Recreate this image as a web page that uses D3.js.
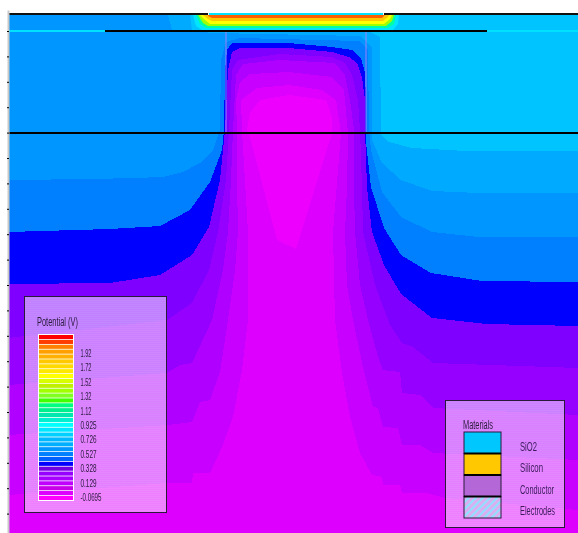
<!DOCTYPE html>
<html>
<head>
<meta charset="utf-8">
<script src="https://cdn.jsdelivr.net/npm/d3@7"></script>
<style>
html, body { margin: 0; padding: 0; background: #fff; overflow: hidden; }
svg { display: block; }
text { font-family: "Liberation Sans", Arial, sans-serif; }
</style>
</head>
<body>
<svg id="chart" width="578" height="533"></svg>
<script>
// contour outlines, [lateral position, depth], outermost level first
var levelA = [[0,-16],[292,-16],[292,1],[362,1],[372,6],[373,104],[381,111],[404,117],[458,120],[570,120],[570,502],[0,502]];
var levelB = [[0,-16],[160,-16],[164,-1],[207,2],[352,5],[364,17],[364,109],[374,132],[393,149],[424,160],[471,162],[570,162],[570,502],[0,502]];
var levelC = [[0,149],[85,148],[125,147],[155,146],[175,141],[192,132],[205,119],[212,99],[213,29],[218,11],[232,7],[352,10],[360,19],[361,99],[363,119],[374,161],[393,186],[424,201],[471,206],[570,206],[570,502],[0,502]];
var levelD = [[0,201],[102,198],[152,195],[182,179],[202,151],[214,119],[216,99],[217,39],[219,19],[224,12],[281,12],[324,16],[344,19],[353,27],[357,42],[358,69],[358,112],[363,156],[376,197],[393,224],[423,242],[474,250],[570,251],[570,502],[0,502]];
var levelE = [[0,253],[102,252],[152,244],[184,224],[201,196],[212,149],[217,99],[220,39],[224,21],[232,17],[281,17],[324,21],[341,26],[349,32],[354,46],[357,69],[357,99],[359,156],[364,201],[376,234],[393,263],[424,287],[478,293],[570,295],[570,502],[0,502]];
var levelF = [[0,307],[159,289],[184,272],[201,239],[210,201],[218,149],[221,99],[224,39],[230,29],[272,23],[324,26],[337,32],[344,44],[350,69],[352,99],[354,156],[355,201],[367,254],[382,294],[394,312],[405,316],[425,332],[570,337],[570,502],[0,502]];
var levelG = [[0,354],[159,342],[172,334],[184,332],[204,289],[215,239],[220,201],[223,149],[225,99],[228,44],[235,33],[272,29],[327,32],[337,44],[342,69],[346,99],[346,156],[347,201],[352,254],[360,289],[370,326],[375,339],[392,341],[394,362],[412,364],[425,377],[570,384],[570,502],[0,502]];
var levelH = [[0,404],[160,394],[184,391],[192,371],[202,369],[212,341],[220,289],[227,239],[230,201],[229,149],[229,99],[228,69],[232,51],[242,43],[281,41],[324,46],[336,59],[340,102],[339,156],[337,201],[339,254],[345,289],[355,336],[365,376],[370,377],[375,396],[390,397],[394,414],[412,414],[425,422],[570,429],[570,502],[0,502]];
var levelJ = [[0,464],[159,452],[184,452],[185,442],[202,442],[214,416],[225,386],[234,339],[240,289],[240,201],[234,99],[233,69],[249,57],[281,54],[314,59],[328,69],[333,102],[325,201],[327,289],[334,342],[342,386],[352,422],[364,444],[374,446],[375,454],[392,454],[394,462],[419,462],[437,467],[570,479],[570,502],[0,502]];
var levelK = [[239,99],[242,82],[252,69],[281,64],[318,69],[324,86],[324,102],[288,218],[269,209],[242,106]];

// the thin strip under the gate electrode
var gate1 = [[182,-16],[184,-1],[392,-1],[393,-16]];
var gate2 = [[185,-16],[188,-5],[194,-1],[385,-1],[390,-7],[391,-16]];
var gate3 = [[188,-16],[192,-7],[198,-3],[380,-3],[386,-7],[388,-16]];
var gate4 = [[190,-16],[195,-8],[200,-5],[378,-5],[384,-10],[386,-16]];
var gate5 = [[192,-16],[197,-11],[202,-7],[376,-7],[382,-12],[384,-16]];
var gate6 = [[195,-16],[200,-12],[204,-10],[375,-10],[380,-14],[381,-16]];
var gate7 = [[200,-16],[200,-15],[204,-13],[374,-13],[377,-16]];

var levelColors = ["#00aaff","#0096ff","#0080ff","#0000ff","#8000ff","#9600ff","#b000ff","#c800ff","#dd00ff","#ee00ff"];
var gateColors = ["#00c4ff","#00e5ff","#00ffa0","#a0ff00","#ffff00","#ffc800","#ff6000"];

var yTicks = [0,25.4,50.8,76.2,101.6,127,152.4,177.8,203.2,228.6,254,279.4,304.8,330.2,355.6,381,406.4,431.8,457.2,482.6];

var scaleColors = ["#ff0000","#ff3c00","#ff8000","#ffa000","#ffb000","#ffc800","#ffd800","#ffe800","#ffff00","#d8ff00","#c0f000","#a0ff00","#80ff20","#40ff00","#00ff80","#00f090","#00e8b0","#00f0d0","#00ffff","#00e8ff","#00d0ff","#00b8ff","#00b0ff","#0096ff","#0080ff","#0060ff","#0000ff","#7000e0","#9600ff","#a800ff","#c000ff","#c800e8","#dd00ff","#ff00ff"];
var scaleLabels = ["1.92","1.72","1.52","1.32","1.12","0.925","0.726","0.527","0.328","0.129","-0.0695"];
var materialNames = ["SiO2","Silicon","Conductor","Electrodes"];
var materialColors = ["#00c8ff","#ffc800","#b468d8","url(#hatch)"];

var svg = d3.select("#chart");

var x = d3.scaleLinear().domain([0,570]).range([8,578]);
var y = d3.scaleLinear().domain([-21,502]).range([10,533]);

var defs = svg.append("defs");
var stripes = defs.append("pattern")
	.attr("id","panel").attr("width",4).attr("height",2)
	.attr("patternUnits","userSpaceOnUse");
stripes.append("rect").attr("width",4).attr("height",2).attr("fill","#fff").attr("fill-opacity",0.5);
stripes.append("rect").attr("width",4).attr("height",1).attr("fill","#fff").attr("fill-opacity",0.06);

var hatch = defs.append("pattern")
	.attr("id","hatch").attr("width",5).attr("height",5)
	.attr("patternUnits","userSpaceOnUse")
	.attr("patternTransform","rotate(45)");
hatch.append("rect").attr("width",5).attr("height",5).attr("fill","#d8b0f0");
hatch.append("rect").attr("width",2).attr("height",5).attr("fill","#90e0ff");

defs.append("filter").attr("id","soft")
	.append("feGaussianBlur").attr("stdDeviation",0.35);

var line = d3.line().x(function(d){ return x(d[0]); }).y(function(d){ return y(d[1]); });

// base level fills the whole device
svg.append("path")
	.attr("d", line([[0,-16],[570,-16],[570,502],[0,502]]) + "Z")
	.attr("fill","#00c4ff");

var levels = [levelA,levelB,levelC,levelD,levelE,levelF,levelG,levelH,levelJ,levelK];
svg.append("g").attr("class","levels").selectAll("path")
	.data(levels).enter().append("path")
	.attr("d",function(d){ return line(d) + "Z"; })
	.attr("fill",function(d,i){ return levelColors[i]; })
	.attr("shape-rendering","crispEdges");

var gates = [gate1,gate2,gate3,gate4,gate5,gate6,gate7];
svg.append("g").attr("class","gate").selectAll("path")
	.data(gates).enter().append("path")
	.attr("d",function(d){ return line(d) + "Z"; })
	.attr("fill",function(d,i){ return gateColors[i]; });

// material boundaries
var edges = [
	{ from:[218,0], to:[218,102], color:"#9a80ff", w:1 },
	{ from:[358,0], to:[358,102], color:"#9a80ff", w:1 },
	{ from:[0,-17], to:[200,-17], color:"#111", w:2 },
	{ from:[201,-17], to:[375,-17], color:"#00e5ff", w:2 },
	{ from:[376,-17], to:[570,-17], color:"#111", w:2 },
	{ from:[0,0], to:[97,0], color:"#00e0ff", w:2 },
	{ from:[97,0], to:[479,0], color:"#000", w:2 },
	{ from:[479,0], to:[570,0], color:"#00e0ff", w:2 },
	{ from:[0,102], to:[570,102], color:"#000", w:2 }
];
svg.append("g").attr("class","edges").selectAll("path")
	.data(edges).enter().append("path")
	.attr("d",function(d){ return line([d.from,d.to]); })
	.attr("stroke",function(d){ return d.color; })
	.attr("stroke-width",function(d){ return d.w; })
	.attr("fill","none");

// left axis, ticks only
var axis = svg.append("g")
	.attr("transform","translate(8,0)")
	.call(d3.axisLeft(y).tickValues(yTicks).tickSize(2).tickSizeOuter(0).tickFormat(""));
axis.select(".domain").attr("stroke","#c8c8c8").attr("stroke-width",2);
axis.selectAll(".tick line").attr("stroke","#000").attr("transform","translate(1,0)");

function drawPanel(px, py, w, h) {
	var g = svg.append("g").attr("transform","translate("+[px,py]+")");
	g.append("rect").attr("width",w).attr("height",h).attr("fill","url(#panel)");
	g.append("rect").attr("x",0.5).attr("y",0.5).attr("width",w-1).attr("height",h-1)
		.attr("fill","none").attr("stroke","#2a1a3a").attr("stroke-width",1);
	return g;
}

function label(g, str, px, py, size, len, color) {
	g.append("text")
		.attr("x",px).attr("y",py)
		.attr("font-size",size)
		.attr("fill",color)
		.attr("dominant-baseline","central")
		.attr("textLength",len)
		.attr("lengthAdjust","spacingAndGlyphs")
		.attr("filter","url(#soft)")
		.text(str);
}

// potential legend
var potential = drawPanel(24,296,143,217);
label(potential,"Potential (V)",13,26,12,41,"#2a1a3a");
var band = d3.scaleBand().domain(d3.range(scaleColors.length)).range([39,204]).paddingInner(0.16);
potential.append("rect").attr("x",14).attr("y",38).attr("width",36).attr("height",167).attr("fill","#fff");
potential.selectAll(".swatch").data(scaleColors).enter().append("rect")
	.attr("class","swatch")
	.attr("x",15).attr("width",34)
	.attr("y",function(d,i){ return band(i); })
	.attr("height",band.bandwidth())
	.attr("fill",function(d){ return d; });
var labelY = d3.scaleLinear().domain([0,scaleLabels.length-1]).range([57,201]);
var labelW = { 4:11, 5:16, 7:21 };
scaleLabels.forEach(function(d,i){
	label(potential,d,56.5,labelY(i),11,labelW[d.length],"#2a1a3a");
});

// materials legend
var materials = drawPanel(445,400,120,128);
label(materials,"Materials",18,25,12,30,"#2a1a3a");
var matBand = d3.scaleBand().domain(d3.range(materialNames.length)).range([32,118]);
var matW = [17,23,34,35];
materialNames.forEach(function(d,i){
	materials.append("rect")
		.attr("x",19).attr("y",matBand(i))
		.attr("width",37).attr("height",matBand.bandwidth())
		.attr("fill",materialColors[i])
		.attr("stroke","#2a1a3a").attr("stroke-width",1);
	if (i > 0) materials.append("rect")
		.attr("x",19).attr("y",matBand(i)-1)
		.attr("width",37).attr("height",2)
		.attr("fill","#000");
	label(materials,d,75,matBand(i)+matBand.bandwidth()/2+4,12,matW[i],"#3a1a5a");
});
</script>
</body>
</html>
